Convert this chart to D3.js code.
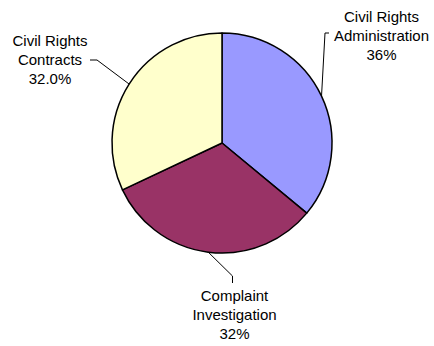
<!DOCTYPE html>
<html>
<head>
<meta charset="utf-8">
<script src="https://cdn.jsdelivr.net/npm/d3@7"></script>
<style>
  html, body { margin: 0; padding: 0; background: #fff; }
  svg { display: block; }
  text { font-family: "Liberation Sans", Arial, sans-serif; font-size: 15px; fill: #000; }
</style>
</head>
<body>
<svg id="chart" width="434" height="346"></svg>
<script>
// Budget share by program area
const categories = ["Civil Rights Administration", "Complaint Investigation", "Civil Rights Contracts"];
const labelLines = [["Civil Rights", "Administration"], ["Complaint", "Investigation"], ["Civil Rights", "Contracts"]];
const shares = [36, 32, 32];
const valueLabels = ["36%", "32%", "32.0%"];
const colors = ["#9999FF", "#993366", "#FFFFCC"];

const width = 434, height = 346;
const cx = 222, cy = 143, radius = 110;

// Label block centre, first baseline, and leader elbow for each slice
const labelLayout = [
  { x: 381.5, y: 21.5, elbow: [325, 33], end: [329, 33] },
  { x: 234.5, y: 301, elbow: [232.5, 276], end: [232.5, 283] },
  { x: 50, y: 45.5, elbow: [97, 60], end: [90, 60] }
];
const lineHeight = 19.2;

const svg = d3.select("#chart");
const g = svg.append("g").attr("transform", `translate(${cx},${cy})`);

const pie = d3.pie().sort(null).value(d => d)(shares);
const arc = d3.arc().innerRadius(0).outerRadius(radius);

g.selectAll("path.slice")
  .data(pie)
  .join("path")
  .attr("class", "slice")
  .attr("d", arc)
  .attr("fill", (d, i) => colors[i])
  .attr("stroke", "#000")
  .attr("stroke-width", 1.5)
  .attr("stroke-linejoin", "round");

// Leader lines from the slice rim to the labels
const edgePoint = d => {
  const a = (d.startAngle + d.endAngle) / 2;
  return [cx + radius * Math.sin(a), cy - radius * Math.cos(a)];
};

svg.selectAll("polyline.leader")
  .data(pie)
  .join("polyline")
  .attr("class", "leader")
  .attr("points", (d, i) => {
    const p = edgePoint(d);
    const L = labelLayout[i];
    return [p, L.elbow, L.end].map(q => q.join(",")).join(" ");
  })
  .attr("fill", "none")
  .attr("stroke", "#000")
  .attr("stroke-width", 1);

const labels = svg.selectAll("text.label")
  .data(pie)
  .join("text")
  .attr("class", "label")
  .attr("text-anchor", "middle");

labels.each(function (d, i) {
  const L = labelLayout[i];
  const lines = labelLines[i].concat([valueLabels[i]]);
  d3.select(this).selectAll("tspan")
    .data(lines)
    .join("tspan")
    .attr("x", L.x)
    .attr("y", (t, j) => L.y + j * lineHeight)
    .text(t => t);
});
</script>
</body>
</html>
